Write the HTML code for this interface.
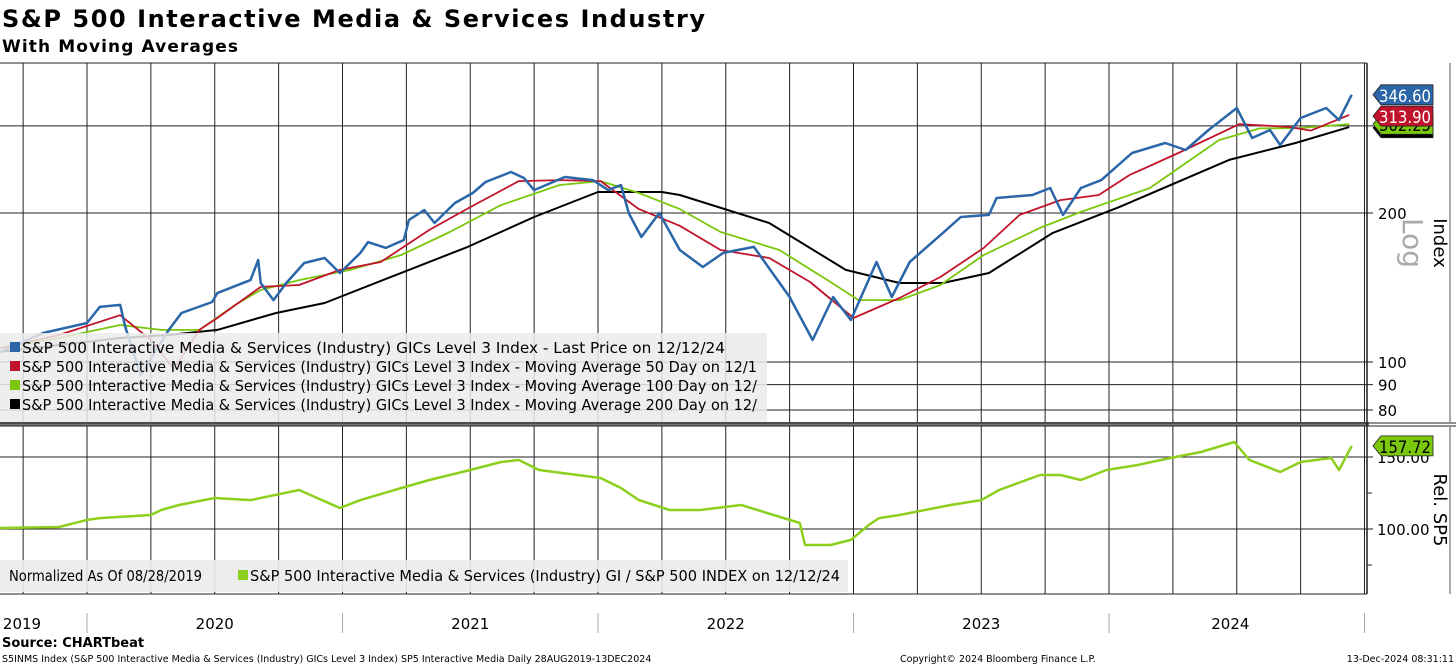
<!DOCTYPE html>
<html><head><meta charset="utf-8"><style>
body{margin:0;background:#fff}
svg{display:block;font-family:"DejaVu Sans","Liberation Sans",sans-serif}
</style></head><body>
<svg id="c" width="1456" height="666" viewBox="0 0 1456 666">
<text x="2" y="27" font-size="24" font-weight="bold" textLength="703">S&amp;P 500 Interactive Media &amp; Services Industry</text>
<text x="2" y="52" font-size="17" font-weight="bold" textLength="236">With Moving Averages</text>
<g id="grid"></g>
<g id="series"></g>
<g id="legend"></g>
<g id="axes"></g>
<text x="2" y="647" font-size="13" font-weight="bold">Source: CHARTbeat</text>
<text x="2" y="662" font-size="9.5">S5INMS Index (S&amp;P 500 Interactive Media &amp; Services (Industry) GICs Level 3 Index) SP5 Interactive Media  Daily 28AUG2019-13DEC2024</text>
<text x="900" y="662" font-size="9.5">Copyright© 2024 Bloomberg Finance L.P.</text>
<text x="1454" y="662" font-size="9.5" text-anchor="end">13-Dec-2024 08:31:11</text>
</svg>
<script>
const priceDates=[2019.66,2019.83,2020.00,2020.05,2020.13,2020.15,2020.21,2020.32,2020.37,2020.49,2020.51,2020.64,2020.67,2020.68,2020.73,2020.78,2020.85,2020.93,2020.99,2021.07,2021.10,2021.17,2021.24,2021.26,2021.32,2021.36,2021.44,2021.51,2021.56,2021.66,2021.71,2021.75,2021.87,2021.98,2022.04,2022.09,2022.12,2022.17,2022.24,2022.32,2022.41,2022.49,2022.61,2022.75,2022.84,2022.92,2022.99,2023.09,2023.15,2023.22,2023.35,2023.42,2023.53,2023.56,2023.70,2023.77,2023.82,2023.89,2023.97,2024.09,2024.22,2024.30,2024.39,2024.50,2024.56,2024.63,2024.67,2024.75,2024.85,2024.90,2024.95];
const priceVals=[104.8,114.5,119.9,129.2,130.4,117.7,94.1,116.1,125.6,132.2,137.8,146.4,160.7,144.4,133.4,144.4,158.5,162.2,151.3,166.1,174.7,170.0,176.4,193.6,202.8,190.9,209.5,219.5,231.0,242.0,235.4,222.5,236.5,233.1,222.5,227.8,200.0,178.9,200.0,168.4,155.6,166.1,170.8,135.3,110.8,135.3,121.6,159.2,135.3,159.2,182.3,196.3,198.2,214.5,217.5,224.7,198.2,224.7,233.1,264.4,277.0,268.1,294.3,326.0,283.5,294.3,274.4,311.2,326.0,308.3,346.6];
const ma50Dates=[2019.66,2019.89,2020.13,2020.25,2020.34,2020.44,2020.51,2020.68,2020.83,2020.99,2021.15,2021.34,2021.50,2021.69,2021.85,2022.01,2022.16,2022.32,2022.48,2022.67,2022.83,2023.00,2023.18,2023.34,2023.51,2023.65,2023.81,2023.96,2024.08,2024.28,2024.51,2024.71,2024.79,2024.94];
const ma50Vals=[106.7,113.4,124.3,110.8,96.8,116.1,122.7,141.8,143.1,153.5,159.2,184.9,205.6,232.0,233.1,232.0,203.7,188.4,168.4,162.2,145.1,122.7,134.7,148.5,170.0,198.2,212.4,217.5,238.6,265.6,302.5,298.3,293.4,315.6];
const ma100Dates=[2019.66,2019.89,2020.13,2020.29,2020.44,2020.58,2020.68,2020.83,2021.03,2021.23,2021.42,2021.62,2021.85,2022.01,2022.16,2022.32,2022.48,2022.71,2022.91,2023.02,2023.18,2023.34,2023.51,2023.73,2023.89,2024.16,2024.43,2024.59,2024.75,2024.94];
const ma100Vals=[106.7,111.8,118.8,116.1,116.1,130.4,139.8,146.4,153.5,164.5,183.1,207.5,227.8,232.0,219.5,203.7,183.1,168.4,145.1,133.4,133.4,143.1,164.5,186.6,201.0,224.7,280.8,296.5,297.0,302.5];
const ma200Dates=[2019.66,2019.89,2020.13,2020.32,2020.51,2020.74,2020.93,2021.26,2021.49,2021.75,2022.00,2022.25,2022.32,2022.67,2022.97,2023.18,2023.35,2023.53,2023.78,2024.04,2024.47,2024.73,2024.94];
const ma200Vals=[104.8,108.2,111.8,113.4,116.1,125.6,131.6,153.5,170.8,196.3,220.5,220.5,217.5,190.9,153.5,144.4,144.4,151.3,182.3,205.6,256.0,277.0,298.3];
const relDates=[2019.66,2019.89,2020.00,2020.05,2020.25,2020.29,2020.36,2020.50,2020.64,2020.83,2020.99,2021.07,2021.23,2021.34,2021.50,2021.62,2021.69,2021.77,2022.01,2022.09,2022.16,2022.28,2022.40,2022.56,2022.79,2022.81,2022.91,2022.99,2023.06,2023.10,2023.18,2023.38,2023.50,2023.57,2023.73,2023.81,2023.89,2023.99,2024.11,2024.24,2024.36,2024.49,2024.55,2024.67,2024.75,2024.87,2024.90,2024.95];
const relVals=[100.7,101.4,106.3,107.6,109.7,113.2,116.7,121.5,120.1,127.1,114.6,120.1,128.5,134.0,141.0,146.5,147.9,141.0,135.4,128.5,120.1,113.2,113.2,116.7,104.2,88.9,88.9,92.4,102.8,107.6,109.7,116.7,120.1,127.1,137.5,137.5,134.0,141.0,144.4,149.3,153.5,160.4,147.9,139.6,146.5,149.3,141.0,157.7];
const upperTicks=[300,200,100,90,80];
const upperTickLabels=["","200","100","90","80"];
const lowerTicks=[150,100];
const lowerTickLabels=["150.00","100.00"];
const yearLabels=["2019","2020","2021","2022","2023","2024"];
const lastPrice=346.60, lastMA50=313.90, lastMA100=302.25, lastMA200=297.40, lastRel=157.72;

const NS="http://www.w3.org/2000/svg";
const X0=87,YW=255.5,R=1367;
const xS=t=>X0+(t-2020)*YW;
const yU=v=>362-149*Math.log2(v/100);
const yL=v=>529-(v-100)*1.44;
function mk(tag,attrs,parent,text){const e=document.createElementNS(NS,tag);for(const k in attrs)e.setAttribute(k,attrs[k]);if(text!==undefined)e.textContent=text;parent.appendChild(e);return e;}
const grid=document.getElementById('grid'),ser=document.getElementById('series'),leg=document.getElementById('legend'),ax=document.getElementById('axes');
for(let q=-3;q<=20;q++){const x=xS(2020+q*0.25);if(x<5||x>R-2)continue;
 const l=mk('line',{x1:x,x2:x,y1:63,y2:594,stroke:'#222','stroke-width':1},grid);
 
 }
mk('line',{x1:0,x2:R,y1:63,y2:63,stroke:'#222'},grid);
upperTicks.forEach((v,i)=>{const y=yU(v);
 const l=mk('line',{x1:0,x2:R+6,y1:y,y2:y,stroke:'#222','stroke-width':1},grid);
 
 
 if(upperTickLabels[i]){const t=mk('text',{x:R+11,y:y+6,'font-size':15},ax,upperTickLabels[i]);
 
 }});
lowerTicks.forEach((v,i)=>{const y=yL(v);
 const l=mk('line',{x1:0,x2:R+6,y1:y,y2:y,stroke:'#222'},grid);
 
 
 const t=mk('text',{x:R+10,y:y+6,'font-size':15},ax,lowerTickLabels[i]);
 
 });
[125,75].forEach(v=>mk('line',{x1:R,x2:R+5,y1:yL(v),y2:yL(v),stroke:'#222'},ax));
mk('rect',{x:0,y:422,width:R+2,height:4,fill:'#777'},grid);
mk('line',{x1:0,x2:1456,y1:423,y2:423,stroke:'#222'},grid);
mk('line',{x1:0,x2:1456,y1:426,y2:426,stroke:'#222'},grid);
mk('line',{x1:0,x2:R,y1:594,y2:594,stroke:'#222'},grid);
mk('line',{x1:R,x2:R,y1:63,y2:594,stroke:'#222','stroke-width':1.5},grid);
mk('line',{x1:1450,x2:1450,y1:63,y2:422,stroke:'#555'},grid);
mk('line',{x1:1450,x2:1450,y1:427,y2:594,stroke:'#555'},grid);
for(let y=2020;y<=2025;y++){mk('line',{x1:xS(y),x2:xS(y),y1:613,y2:633,stroke:'#aaa'},ax);}
yearLabels.forEach((lab,i)=>{const yr=2019+i;const a=Math.max(xS(yr),0),b=Math.min(xS(yr+1),xS(2024.95));
 const t=mk('text',{x:yr===2019?22:(a+b)/2,y:629,'font-size':15,'text-anchor':'middle'},ax,lab);
 
 });
function line(d,v,ys,col,w,name){const p=d.map((t,i)=>xS(t).toFixed(1)+','+ys(v[i]).toFixed(1)).join(' ');
 const e=mk('polyline',{points:p,fill:'none',stroke:col,'stroke-width':w,'stroke-linejoin':'round'},ser);
 
 }
line(ma200Dates,ma200Vals,yU,'#000',2,'ma200-line');
line(ma100Dates,ma100Vals,yU,'#7ac70c',1.8,'ma100-line');
line(ma50Dates,ma50Vals,yU,'#c0142c',1.8,'ma50-line');
line(priceDates,priceVals,yU,'#2a66a8',2.5,'price-line');
line(relDates,relVals,yL,'#8ccf1c',2.5,'relative-line');
mk('rect',{x:0,y:333,width:767,height:89,fill:'rgba(235,235,235,0.85)'},leg);
const legs=[['#2a66a8','Last Price on 12/12/24',703],['#c0142c','Moving Average 50 Day on 12/1',735],['#7ac70c','Moving Average 100 Day on 12/',735],['#000','Moving Average 200 Day on 12/',735]];
legs.forEach((l,i)=>{const y=348+i*19;mk('rect',{x:10,y:y-6,width:10,height:10,fill:l[0]},leg);
 const t=mk('text',{x:22,y:y+5,'font-size':15,textLength:l[2],lengthAdjust:'spacingAndGlyphs'},leg,'S&P 500 Interactive Media & Services (Industry) GICs Level 3 Index - '+l[1]);
 
 });
mk('rect',{x:0,y:560,width:848,height:32,fill:'rgba(235,235,235,0.9)'},leg);
mk('text',{x:9,y:581,'font-size':15,textLength:193,lengthAdjust:'spacingAndGlyphs'},leg,'Normalized As Of 08/28/2019');
mk('rect',{x:238,y:570,width:10,height:10,fill:'#8ccf1c'},leg);
mk('text',{x:250,y:581,'font-size':15,textLength:590,lengthAdjust:'spacingAndGlyphs'},leg,'S&P 500 Interactive Media & Services (Industry) GI / S&P 500 INDEX on 12/12/24');
function tag(v,ys,bg,fg,name,txt){const y=ys(v);
 const g=mk('g',{},ax);
 mk('polygon',{points:`${R+6},${y} ${R+14},${y-10} ${R+66},${y-10} ${R+66},${y+10} ${R+14},${y+10}`,fill:bg,stroke:'#222','stroke-width':0.8},g);
 mk('text',{x:R+12,y:y+7,'font-size':17,fill:fg,textLength:52,lengthAdjust:'spacingAndGlyphs'},g,txt);}
tag(lastMA200,yU,'#000','#fff','ma200-value-tag','297.40');
tag(lastMA100,yU,'#7ac70c','#000','ma100-value-tag','302.25');
tag(lastMA50,yU,'#c0142c','#fff','ma50-value-tag',lastMA50.toFixed(2));
tag(lastPrice,yU,'#2a66a8','#fff','price-value-tag',lastPrice.toFixed(2));
tag(lastRel,yL,'#7ac70c','#000','relative-value-tag',lastRel.toFixed(2));
let t=mk('text',{x:1434,y:243,'font-size':18,transform:'rotate(90 1434 243)','text-anchor':'middle'},ax,'Index');

t=mk('text',{x:1403,y:243,'font-size':28,fill:'#aaa',transform:'rotate(90 1403 243)','text-anchor':'middle'},ax,'Log');

t=mk('text',{x:1434,y:510,'font-size':18,transform:'rotate(90 1434 510)','text-anchor':'middle'},ax,'Rel. SP5');

</script>
</body></html>
